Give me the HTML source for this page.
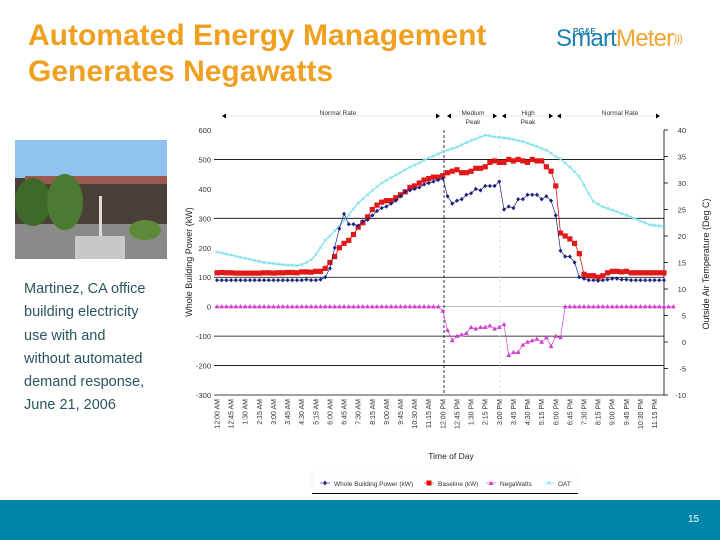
<!DOCTYPE html>
<html><head><meta charset="utf-8">
<style>
body{margin:0;width:720px;height:540px;position:relative;background:#fff;font-family:"Liberation Sans",sans-serif;overflow:hidden}
#title{position:absolute;left:28px;top:18px;color:#f0a020;font-weight:bold;font-size:30px;line-height:36px}
#logo{position:absolute;left:556px;top:27px;font-size:24px;line-height:24px;letter-spacing:-0.8px}
#photo{position:absolute;left:15px;top:140px;width:152px;height:119px}
#caption{position:absolute;left:24px;top:278px;color:#2a5560;font-size:14.5px;line-height:23.3px}
#footer{position:absolute;left:0;top:500px;width:720px;height:40px;background:#0084aa}
#pagenum{position:absolute;left:688px;top:514px;color:#fff;font-size:10px}
</style></head><body>
<div id="title">Automated Energy Management<br>Generates Negawatts</div>
<div id="logo"><span style="position:absolute;left:17px;top:-7px;font-size:8px;font-weight:bold;color:#1b7fb0;letter-spacing:0">PG&amp;E</span><span style="color:#1b7fb0">Smart</span><span style="color:#f2a531">Meter</span><span style="color:#f2a531;font-size:11px;vertical-align:top">)))</span></div>
<svg id="photo" viewBox="0 0 152 119">
<rect width="152" height="119" fill="#8fc3ee"/>
<rect y="38" width="152" height="46" fill="#4a4038"/>
<rect x="10" y="36" width="142" height="8" fill="#9a5a50"/>
<rect y="84" width="152" height="35" fill="#8a8a88"/>
<ellipse cx="18" cy="62" rx="18" ry="24" fill="#3d6a2a"/>
<ellipse cx="50" cy="62" rx="18" ry="28" fill="#4b7a33"/>
<ellipse cx="130" cy="90" rx="16" ry="10" fill="#5f8a3a"/>
<rect x="84" y="56" width="3" height="60" fill="#ddd"/>
<rect x="60" y="96" width="50" height="23" fill="#c8c8c8"/>
</svg>
<div id="caption">Martinez, CA office<br>building electricity<br>use with and<br>without automated<br>demand response,<br>June 21, 2006</div>
<svg id="chart" width="720" height="540" style="position:absolute;left:0;top:0"></svg>
<div id="footer"></div>
<div id="pagenum">15</div>
<script>
const powerTicks=[600,500,400,300,200,100,0,-100,-200,-300];
const tempTicks=[40,35,30,25,20,15,10,5,0,-5,-10];
const timeLabels=["12:00 AM","12:45 AM","1:30 AM","2:15 AM","3:00 AM","3:45 AM","4:30 AM","5:15 AM","6:00 AM","6:45 AM","7:30 AM","8:15 AM","9:00 AM","9:45 AM","10:30 AM","11:15 AM","12:00 PM","12:45 PM","1:30 PM","2:15 PM","3:00 PM","3:45 PM","4:30 PM","5:15 PM","6:00 PM","6:45 PM","7:30 PM","8:15 PM","9:00 PM","9:45 PM","10:30 PM","11:15 PM"];
const wholeBuilding=[90,90,90,90,90,90,90,90,90,90,90,90,90,90,90,90,90,90,90,92,90,90,92,100,130,200,265,315,280,280,275,290,295,310,325,335,340,350,360,375,390,395,400,405,415,420,425,430,435,375,350,360,365,380,385,400,395,410,410,410,425,330,340,335,365,365,380,380,380,365,375,360,310,190,170,170,150,100,95,90,90,88,90,92,95,95,92,92,90,90,90,90,90,90,90,90];
const baseline=[115,116,115,115,114,114,114,114,114,114,115,115,114,115,115,116,116,115,118,118,117,120,120,130,150,170,200,215,225,245,270,285,305,330,345,355,360,360,370,380,390,405,410,420,430,435,440,440,445,455,460,465,455,455,460,470,470,475,490,495,490,490,500,495,500,495,490,500,495,495,475,460,410,250,240,230,215,180,110,105,105,100,105,115,120,120,118,120,115,115,115,115,115,115,115,115];
const negawatts=[0,0,0,0,0,0,0,0,0,0,0,0,0,0,0,0,0,0,0,0,0,0,0,0,0,0,0,0,0,0,0,0,0,0,0,0,0,0,0,0,0,0,0,0,0,0,0,0,-15,-80,-115,-100,-95,-90,-70,-75,-70,-70,-65,-75,-70,-60,-165,-155,-155,-130,-120,-115,-110,-120,-105,-135,-100,-105,0,0,0,0,0,0,0,0,0,0,0,0,0,0,0,0,0,0,0,0,0,0,0,0];
const oat=[17.0,16.8,16.6,16.4,16.2,16.0,15.8,15.6,15.4,15.2,15.0,14.9,14.8,14.7,14.6,14.5,14.5,14.4,14.6,15.0,15.5,16.5,17.8,19.2,20.0,21.0,21.8,22.9,24.0,25.1,26.2,27.0,27.8,28.6,29.3,30.0,30.5,31.0,31.5,32.0,32.5,33.0,33.4,33.8,34.3,34.7,35.1,35.5,35.9,36.2,36.5,36.8,37.2,37.6,38.0,38.3,38.7,39.0,38.9,38.7,38.6,38.5,38.4,38.2,38.0,37.8,37.5,37.2,36.9,36.5,36.2,35.6,35.0,34.5,33.8,33.0,32.1,31.2,29.6,28.0,26.5,26.0,25.5,25.2,24.9,24.6,24.2,23.9,23.6,23.2,22.8,22.5,22.1,22.0,21.9,21.8];

const NS="http://www.w3.org/2000/svg";
const svg=document.getElementById('chart');
const X0=217,X1=664,YT=130,YB=395;
const xs=i=>X0+i*(X1-X0)/95;
const yP=v=>YT+(600-v)*(YB-YT)/900;
const yT=v=>YT+(40-v)*(YB-YT)/50;
function el(t,a,p){const e=document.createElementNS(NS,t);for(const k in a)e.setAttribute(k,a[k]);(p||svg).appendChild(e);return e;}
function txt(x,y,s,a,p){const e=el('text',Object.assign({x:x,y:y,'font-family':'Liberation Sans, sans-serif'},a),p);e.textContent=s;return e;}

for(const v of powerTicks){
  const g=el('line',{x1:X0-3,x2:X1,y1:yP(v),y2:yP(v),stroke:v===0?'#999':'#000','stroke-width':v===0?0.6:0.8});
  
  
  if(v===600||v===400||v===200)g.setAttribute('stroke','none');
  const t=txt(X0-6,yP(v)+3,String(v),{'font-size':7.5,'text-anchor':'end',fill:'#333'});
  
  
}
el('line',{x1:X1,x2:X1,y1:YT,y2:YB,stroke:'#000','stroke-width':0.8});
for(const v of tempTicks){
  el('line',{x1:X1,x2:X1+4,y1:yT(v),y2:yT(v),stroke:'#000','stroke-width':0.8});
  const t=txt(X1+22,yT(v)+3,String(v),{'font-size':7.5,'text-anchor':'end',fill:'#333'});
  
  
}
el('line',{x1:444,x2:444,y1:YT,y2:YB,stroke:'#000','stroke-width':0.8,'stroke-dasharray':'3,2'});
el('line',{x1:500,x2:500,y1:YT,y2:YB,stroke:'#ddd','stroke-width':0.8,'stroke-dasharray':'3,2'});

let t=txt(0,0,'Whole Building Power (kW)',{'font-size':9,fill:'#222','text-anchor':'middle',transform:'translate(192,262) rotate(-90)'});

t=txt(0,0,'Outside Air Temperature (Deg C)',{'font-size':9,fill:'#222','text-anchor':'middle',transform:'translate(709,264) rotate(-90)'});

t=txt(451,459,'Time of Day',{'font-size':8.5,fill:'#222','text-anchor':'middle'});


timeLabels.forEach((s,k)=>{
  const x=xs(k*3)+2.5;
  const e=txt(0,0,s,{'font-size':7,fill:'#333','text-anchor':'end',transform:`translate(${x},399) rotate(-90)`});
  
  
});

const periods=[["Normal Rate",222,440,338],["Medium Peak",447,497,473],["High Peak",502,553,528],["Normal Rate",557,660,620]];
periods.forEach(p=>{
  el('line',{x1:p[1],x2:p[2],y1:116,y2:116,stroke:'#ccc','stroke-width':0.6});
  el('path',{d:`M${p[1]} 116 l4 -2.5 v5z M${p[2]} 116 l-4 -2.5 v5z`,fill:'#000'});
  const lines=p[0].split(' ');
  let e;
  if(p[1]>440&&p[2]<560){e=txt(p[3],115,lines[0],{'font-size':6.5,fill:'#333','text-anchor':'middle'});txt(p[3],124,lines[1],{'font-size':6.5,fill:'#333','text-anchor':'middle'});}
  else e=txt(p[3],115,p[0],{'font-size':6.5,fill:'#333','text-anchor':'middle'});
  
  
});

function poly(arr,yf,col,w){
  const pts=arr.map((v,i)=>xs(i).toFixed(1)+','+yf(v).toFixed(1)).join(' ');
  return el('polyline',{points:pts,fill:'none',stroke:col,'stroke-width':w});
}
let l=poly(oat,yT,'#7fe0e8',1.2);

oat.forEach((v,i)=>{const m=el('path',{d:`M${xs(i)-1.5} ${yT(v)-1.5} l3 3 m0 -3 l-3 3`,stroke:'#7fe0e8','stroke-width':0.8});
  });
l=poly(baseline,yP,'#e01010',0.8);

baseline.forEach((v,i)=>{const m=el('rect',{x:xs(i)-2.6,y:yP(v)-2.6,width:5.2,height:5.2,fill:'#e01818'});
  });
l=poly(wholeBuilding,yP,'#1a237e',0.7);

wholeBuilding.forEach((v,i)=>{const x=xs(i),y=yP(v);const m=el('path',{d:`M${x} ${y-2.2} l2 2.2 l-2 2.2 l-2 -2.2z`,fill:'#1a237e'});
  });
l=poly(negawatts,yP,'#d040d0',0.7);

negawatts.forEach((v,i)=>{const x=xs(i),y=yP(v);const m=el('path',{d:`M${x} ${y-2.5} l2.4 4.2 h-4.8z`,fill:'#d040d0'});
  });

const lg=el('g',{});

el('rect',{x:312,y:472,width:266,height:21,fill:'#fff',stroke:'#eee','stroke-width':0.6},lg);
el('line',{x1:312,x2:578,y1:493.5,y2:493.5,stroke:'#000','stroke-width':1},lg);
const ents=[["Whole Building Power (kW)",'#1a237e',325,'d'],["Baseline (kW)",'#e01010',429,'s'],["NegaWatts",'#d040d0',491,'t'],["OAT",'#7fe0e8',549,'x']];
ents.forEach(e=>{
  const g=el('g',{},lg);
  
  el('line',{x1:e[2]-5,x2:e[2]+5,y1:483,y2:483,stroke:e[1],'stroke-width':0.6},g);
  if(e[3]==='d')el('path',{d:`M${e[2]} 480.5 l2 2.5 l-2 2.5 l-2 -2.5z`,fill:e[1]},g);
  if(e[3]==='s')el('rect',{x:e[2]-2.5,y:480.5,width:5,height:5,fill:e[1]},g);
  if(e[3]==='t')el('path',{d:`M${e[2]} 480.5 l2.5 4.5 h-5z`,fill:e[1]},g);
  if(e[3]==='x')el('path',{d:`M${e[2]-2} 481 l4 4 m0 -4 l-4 4`,stroke:e[1],'stroke-width':0.8},g);
  txt(e[2]+9,486,e[0],{'font-size':6.5,fill:'#333'},g);
});
</script>
</body></html>
